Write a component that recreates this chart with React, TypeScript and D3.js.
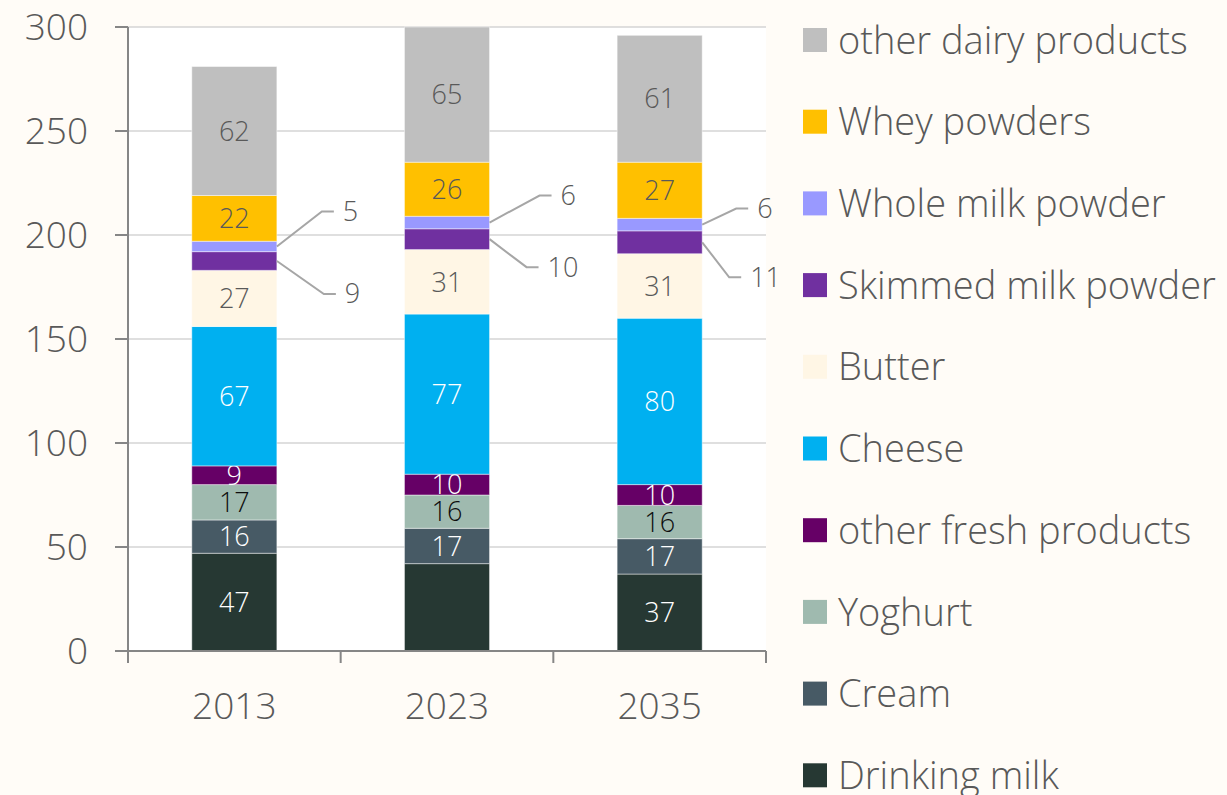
import React from 'react';
import * as d3 from 'd3';

// years on the x axis
const years = ['2013', '2023', '2035'];

// series, bottom of the stack first
const drinkingMilk = [47, 42, 37];
const cream = [16, 17, 17];
const yoghurt = [17, 16, 16];
const otherFresh = [9, 10, 10];
const cheese = [67, 77, 80];
const butter = [27, 31, 31];
const skimmedMilkPowder = [9, 10, 11];
const wholeMilkPowder = [5, 6, 6];
const wheyPowders = [22, 26, 27];
const otherDairy = [62, 65, 61];

const yTicks = [0, 50, 100, 150, 200, 250, 300];

interface Series {
  name: string;
  values: number[];
  color: string;
  labelColor: string;
  hidden?: boolean[]; // labels that the original leaves out
  leader?: boolean;
}

const series: Series[] = [
  { name: 'Drinking milk', values: drinkingMilk, color: '#263833', labelColor: '#ffffff', hidden: [false, true, false] },
  { name: 'Cream', values: cream, color: '#475a65', labelColor: '#ffffff' },
  { name: 'Yoghurt', values: yoghurt, color: '#9fbaaf', labelColor: '#0d0d0d' },
  { name: 'other fresh products', values: otherFresh, color: '#660066', labelColor: '#ffffff' },
  { name: 'Cheese', values: cheese, color: '#00b0f0', labelColor: '#ffffff' },
  { name: 'Butter', values: butter, color: '#fff6e5', labelColor: '#595959' },
  { name: 'Skimmed milk powder', values: skimmedMilkPowder, color: '#7030a0', labelColor: '#595959', leader: true },
  { name: 'Whole milk powder', values: wholeMilkPowder, color: '#9999ff', labelColor: '#595959', leader: true },
  { name: 'Whey powders', values: wheyPowders, color: '#ffc000', labelColor: '#595959' },
  { name: 'other dairy products', values: otherDairy, color: '#bfbfbf', labelColor: '#595959' },
];

// leader line offsets (px) for the two thin powder segments, per year
const leaderOffsets: Record<string, { dx: number; dy: number }[]> = {
  'Whole milk powder': [{ dx: 45, dy: -35 }, { dx: 50, dy: -27 }, { dx: 34, dy: -16 }],
  'Skimmed milk powder': [{ dx: 47, dy: 33 }, { dx: 37, dy: 28 }, { dx: 27, dy: 35 }],
};

const W = 1227;
const H = 795;
const margin = { top: 27, right: 461, bottom: 144, left: 128 };
const FONT = '"Open Sans", "DejaVu Sans", sans-serif';
const textColor = '#595959';

const App: React.FC = () => {
  const x = d3
    .scaleBand<string>()
    .domain(years)
    .range([margin.left, W - margin.right])
    .paddingInner(0.6)
    .paddingOuter(0.3);

  const y = d3
    .scaleLinear()
    .domain([0, 300])
    .range([H - margin.bottom, margin.top]);

  const rows = years.map((yr, i) => {
    const row: Record<string, number | string> = { year: yr };
    series.forEach((s) => (row[s.name] = s.values[i]));
    return row;
  });
  const stacked = d3.stack<Record<string, number | string>>().keys(series.map((s) => s.name))(rows as any);

  const x0 = margin.left;
  const x1 = W - margin.right;
  const y0 = y(0);
  const bw = x.bandwidth();
  const step = x.step();

  // category boundaries for x ticks
  const boundaries = years.map((yr) => (x(yr) as number) - (step - bw) / 2).concat([x1]);

  return (
    <div style={{ position: 'absolute', left: 0, top: 0 }}>
      <svg width={W} height={H} style={{ display: 'block', background: '#fffcf7', fontFamily: FONT }}>
        <rect x={x0} y={y(300)} width={x1 - x0} height={y0 - y(300)} fill="#ffffff" />

        {/* gridlines */}
        {yTicks.slice(1).map((t) => (
          <line key={t} x1={x0} x2={x1} y1={y(t)} y2={y(t)} stroke="#d4d4d4" strokeWidth={1.5} />
        ))}

        {/* bars */}
        {stacked.map((layer, si) => {
          const s = series[si];
          return (
            <g key={s.name}>
              {layer.map((d, i) => {
                const bx = x(years[i]) as number;
                const top = y(d[1]);
                const bottom = y(d[0]);
                const cy = (top + bottom) / 2;
                let label: React.ReactNode = null;
                if (s.leader) {
                  const off = leaderOffsets[s.name][i];
                  const sx = bx + bw;
                  const lx = sx + off.dx;
                  const ly = cy + off.dy;
                  label = (
                    <g>
                      <polyline
                        points={`${sx},${cy} ${lx},${ly} ${lx + 12},${ly}`}
                        fill="none"
                        stroke="#a6a6a6"
                        strokeWidth={2}
                      />
                      <text x={lx + 21} y={ly} dy="0.35em" fontSize={27} fontWeight={300} fill={s.labelColor}>
                        {s.values[i]}
                      </text>
                    </g>
                  );
                } else if (!(s.hidden && s.hidden[i])) {
                  label = (
                    <text
                      x={bx + bw / 2}
                      y={cy}
                      dy="0.36em"
                      textAnchor="middle"
                      fontSize={27}
                      fontWeight={300}
                      fill={s.labelColor}
                    >
                      {s.values[i]}
                    </text>
                  );
                }
                return (
                  <g key={i}>
                    <rect
                      x={bx}
                      y={top}
                      width={bw}
                      height={bottom - top}
                      fill={s.color}
                      stroke="#ffffff"
                      strokeOpacity={0.45}
                      strokeWidth={1}
                    />
                    {label}
                  </g>
                );
              })}
            </g>
          );
        })}

        {/* y axis */}
        <line x1={x0} x2={x0} y1={y(300)} y2={y0} stroke="#868686" strokeWidth={2} />
        {yTicks.map((t) => (
          <g key={t}>
            <line x1={x0 - 13} x2={x0} y1={y(t)} y2={y(t)} stroke="#868686" strokeWidth={2} />
            <text x={88} y={y(t)} dy="0.36em" textAnchor="end" fontSize={37} fontWeight={300} fill={textColor}>
              {t}
            </text>
          </g>
        ))}

        {/* x axis */}
        <line x1={x0} x2={x1} y1={y0} y2={y0} stroke="#868686" strokeWidth={2} />
        {boundaries.map((b, i) => (
          <line key={i} x1={b} x2={b} y1={y0} y2={y0 + 12} stroke="#868686" strokeWidth={2} />
        ))}
        {years.map((yr) => (
          <text
            key={yr}
            x={(x(yr) as number) + bw / 2}
            y={706}
            dy="0.36em"
            textAnchor="middle"
            fontSize={37}
            fontWeight={300}
            fill={textColor}
          >
            {yr}
          </text>
        ))}

        {/* legend, top of the stack first */}
        {series
          .slice()
          .reverse()
          .map((s, i) => {
            const cy = 40 + i * 81.7;
            return (
              <g key={s.name}>
                <rect x={803} y={cy - 12} width={24} height={24} fill={s.color} />
                <text x={838} y={cy} dy="0.36em" fontSize={38} fontWeight={300} fill={textColor}>
                  {s.name}
                </text>
              </g>
            );
          })}
      </svg>
    </div>
  );
};

export default App;
